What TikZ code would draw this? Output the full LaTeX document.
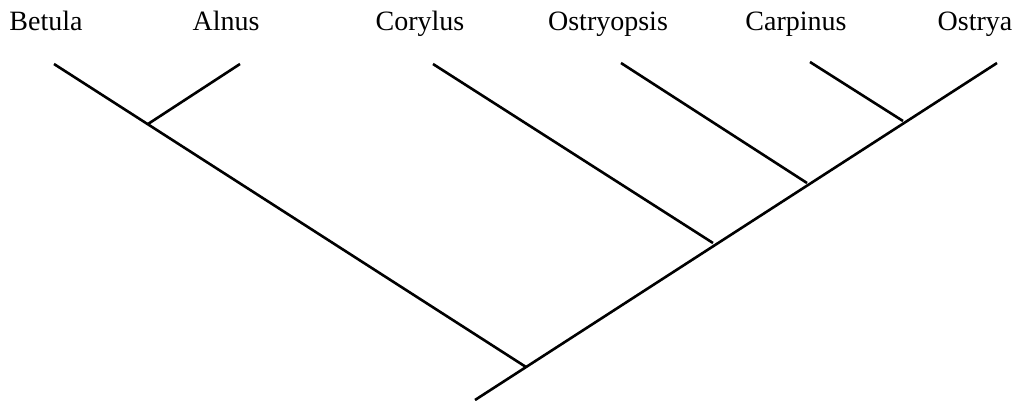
\documentclass[tikz,border=0pt]{standalone}
\usepackage{fontspec}
\setmainfont{Liberation Serif}
\begin{document}
\begin{tikzpicture}[x=1pt,y=-1pt,
  taxon/.style={font=\fontsize{28}{31}\selectfont, inner sep=0pt, anchor=base},
  branch/.style={line width=2.6pt, line cap=butt}]
\useasboundingbox (0,0) rectangle (1024,400);
% labels
\node[taxon] (betula) at (46,30) {Betula};
\node[taxon] (alnus) at (226,30) {Alnus};
\node[taxon] (corylus) at (420,30) {Corylus};
\node[taxon] (ostryopsis) at (608,30) {Ostryopsis};
\node[taxon] (carpinus) at (796,30) {Carpinus};
\node[taxon] (ostrya) at (975,30) {Ostrya};
% tips
\coordinate (tBetula) at (54,64);
\coordinate (tAlnus) at (240,64);
\coordinate (tCorylus) at (433,64);
\coordinate (tOstryopsis) at (621,63);
\coordinate (tCarpinus) at (810,62);
\coordinate (tOstrya) at (997,63);
% internal nodes
\coordinate (jAlnus) at (148,124);
\coordinate (jCarpinus) at (903,121);
\coordinate (jOstryopsis) at (807,183);
\coordinate (jCorylus) at (713,243);
\coordinate (root) at (526,367);
\coordinate (base) at (475,400);
% branches
\draw[branch] (tBetula) -- (root);
\draw[branch] (tAlnus) -- (jAlnus);
\draw[branch] (base) -- (tOstrya);
\draw[branch] (tCorylus) -- (jCorylus);
\draw[branch] (tOstryopsis) -- (jOstryopsis);
\draw[branch] (tCarpinus) -- (jCarpinus);
\end{tikzpicture}
\end{document}
